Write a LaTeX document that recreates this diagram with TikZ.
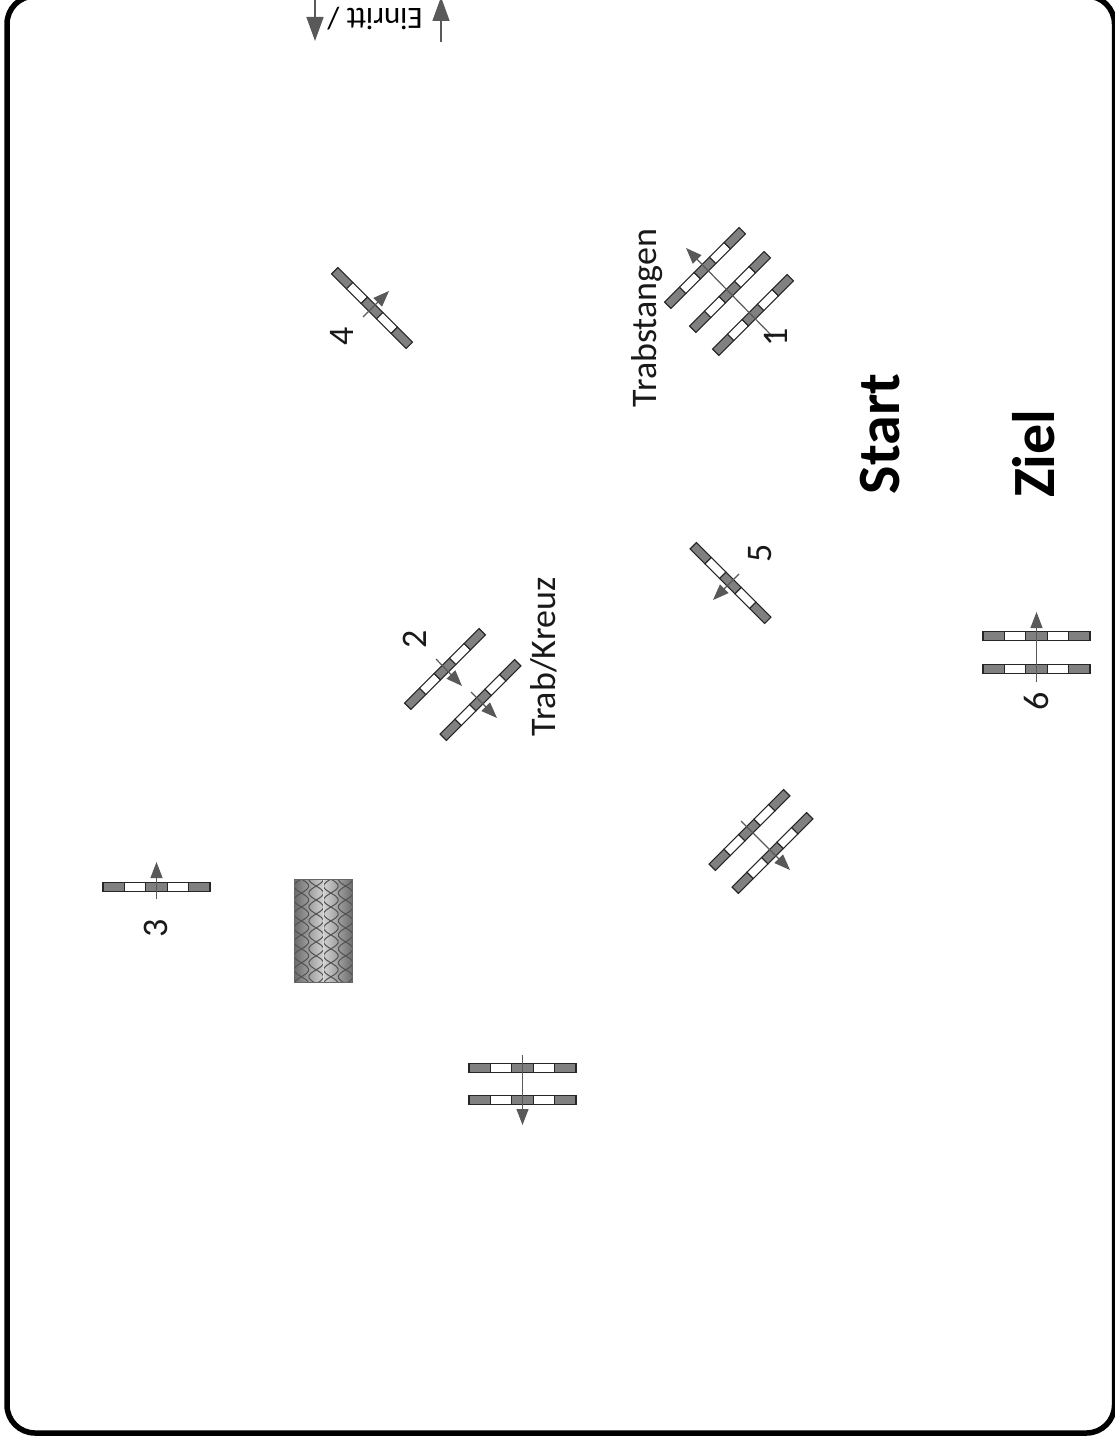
\documentclass[tikz,border=0pt]{standalone}
\usepackage{fontspec}
\setmainfont{Carlito}
\usetikzlibrary{arrows.meta}
\definecolor{polegray}{HTML}{808080}
\definecolor{arrowgray}{HTML}{595959}
\tikzset{
  seg/.style={draw=black!85,line width=1.1pt},
  pole/.pic={
    \path[seg,fill=polegray] (-53.5,-4.5) rectangle (-32,4.5);
    \path[seg,fill=white] (-32,-4.5) rectangle (-11,4.5);
    \path[seg,fill=polegray] (-11,-4.5) rectangle (11,4.5);
    \path[seg,fill=white] (11,-4.5) rectangle (32,4.5);
    \path[seg,fill=polegray] (32,-4.5) rectangle (53.5,4.5);
  },
  arr/.style={draw=arrowgray,line width=1.2pt,-{Triangle[length=16pt,width=12pt,fill=arrowgray]}},
  bigarr/.style={draw=arrowgray,line width=1.5pt,-{Triangle[length=24pt,width=17pt,fill=arrowgray]}},
  lab/.style={inner sep=0pt,font=\fontsize{36}{40}\selectfont,text=black!90,rotate=90},
  biglab/.style={inner sep=0pt,font=\fontsize{60}{64}\selectfont\bfseries,rotate=90},
}
\begin{document}
\begin{tikzpicture}[x=1pt,y=-1pt]
\useasboundingbox (0,0) rectangle (1115,1445);
\draw[line width=5.5pt,rounded corners=28pt] (7,-4) rectangle (1114.5,1433);
% obstacle with net texture
\begin{scope}
\clip (294.5,879.5) rectangle (352.5,982);
\shade[left color=black!58,right color=black!58,middle color=black!18] (294,879) rectangle (353,982);
\foreach \k in {-1,...,4}{
  \pgfmathsetmacro{\cx}{301.4+14.75*\k}
  \pgfmathsetmacro{\ph}{90*\k}
  \draw[black!68,line width=1pt] plot[smooth,domain=875:990,samples=50] ({\cx+7.4*sin(\x*12.9+\ph)},\x);
  \draw[black!68,line width=1pt] plot[smooth,domain=875:990,samples=50] ({\cx-7.4*sin(\x*12.9+\ph)},\x);
}
\draw[black!15,line width=1pt] (323,879) -- (323,982);
\end{scope}
\draw[black!60,line width=1pt] (294.5,879.5) rectangle (352.5,982);
% poles
\tikzset{dg/.style={rotate=#1,xscale=.985}}
\pic[dg=-45] at (372,308) {pole};
\pic[dg=45] at (705,268) {pole};
\pic[dg=45] at (730,292) {pole};
\pic[dg=45] at (753,315) {pole};
\pic[dg=45] at (445,669) {pole};
\pic[dg=45] at (480.5,700) {pole};
\pic[dg=-45] at (730.5,583) {pole};
\pic[dg=45] at (749.5,830) {pole};
\pic[dg=45] at (772.5,853) {pole};
\pic at (156.5,887) {pole};
\pic at (1036.5,636) {pole};
\pic at (1036.5,669) {pole};
\pic at (522.5,1068) {pole};
\pic at (522.5,1100) {pole};
% arrow end points
\coordinate (a1s) at (773,337); \coordinate (a1e) at (686,248);
\coordinate (a2s) at (436,659); \coordinate (a2e) at (462,686);
\coordinate (a3s) at (471,692); \coordinate (a3e) at (497,718);
\coordinate (a4s) at (363,317); \coordinate (a4e) at (389,291);
\coordinate (a5s) at (739,574); \coordinate (a5e) at (713,600);
\coordinate (a6s) at (741,821); \coordinate (a6e) at (790,870);
\coordinate (a7s) at (522.5,1055); \coordinate (a7e) at (522.5,1125);
\coordinate (a8s) at (1036.5,682); \coordinate (a8e) at (1036.5,612);
\coordinate (a9s) at (156.5,899); \coordinate (a9e) at (156.5,862);
\coordinate (e1s) at (315,-2); \coordinate (e1e) at (315,41);
\coordinate (e2s) at (441,42); \coordinate (e2e) at (441,-3);
\foreach \n in {1,...,9}{\draw[arr] (a\n s) -- (a\n e);}
\draw[bigarr] (e1s) -- (e1e);
\draw[bigarr] (e2s) -- (e2e);
% labels
\node[lab] (trab) at (647.5,318) {Trabstangen};
\node[lab] (kreuz) at (544,657) {Trab/Kreuz};
\node[lab] (n1) at (776,337) {1};
\node[lab] (n2) at (415,639) {2};
\node[lab] (n3) at (156,928) {3};
\node[lab] (n4) at (342,336) {4};
\node[lab] (n5) at (760,553) {5};
\node[lab] (n6) at (1036,701) {6};
\node[biglab] (start) at (880,434) {Start};
\node[biglab] (ziel) at (1033.5,453.5) {Ziel};
\node[inner sep=0pt,font=\fontsize{31}{34}\selectfont,rotate=180] (ein) at (375,19) {Einritt /};
\end{tikzpicture}
\end{document}
